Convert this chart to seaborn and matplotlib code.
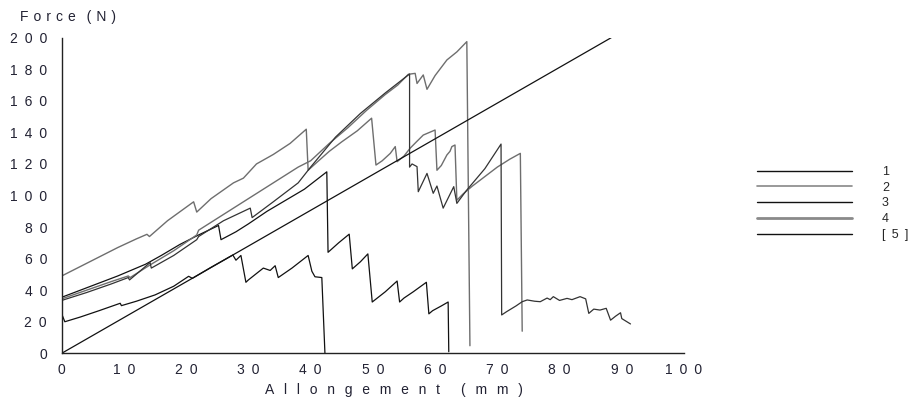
import matplotlib
matplotlib.use("Agg")
import matplotlib.pyplot as plt
import seaborn as sns
import numpy as np

# curve 1 (saw-tooth, fails at ~62 mm)
c1_x = [0, 3, 6, 9, 12, 13.5, 16, 19, 22, 25.2, 25.6, 28, 30, 33, 36, 39, 42.6, 42.8, 44.5, 46.2,
        46.7, 48, 49.2, 49.9, 52, 53.9, 54.3, 55, 56.5, 58.6, 59, 59.6, 61, 62.1, 62.2]
c1_y = [35.5, 40, 44.5, 49, 54, 56.5, 62, 69, 75, 81, 72, 77, 82, 90, 97, 104, 115, 64, 70, 75.5,
        53.5, 58, 63, 32.5, 39, 45.8, 32.5, 35, 39, 45, 25, 27, 30, 32.5, 1]

# curve 2 (starts at 49 N)
c2_x = [0, 3, 6, 9, 12, 13.7, 14.1, 17, 21.2, 21.7, 24, 27.6, 29.2, 31.3, 34, 36.7, 39.3, 39.6, 41,
        43, 45, 47.5, 49.8, 50.5, 51.5, 52.8, 53.6, 53.9, 55, 56, 57, 58.1, 60, 60.3, 61, 61.9, 62.4,
        62.7, 63.2, 63.5, 64.5, 66, 68, 70, 72, 73.7, 74]
c2_y = [49, 55, 61, 67, 72.5, 75.4, 74, 84, 96, 89.5, 98, 108, 111, 120, 126, 133, 142, 116, 121,
        128, 134, 141, 149, 119.3, 122, 126.7, 131, 121.4, 125, 130, 134, 138.3, 141.5, 116, 119, 125.7, 128,
        131, 132, 97, 101, 106, 112, 118, 123, 126.7, 14]

# curve 3 (lowest start)
c3_x = [0, 0.5, 3, 6, 9.4, 9.6, 12, 15, 18, 20.4, 21, 24, 27.5, 28, 28.8, 29.6, 30, 32.4, 33.5,
        34.3, 34.8, 37, 39.6, 40.2, 40.7, 41.8, 42.3]
c3_y = [25, 20, 23, 27, 31.7, 30.2, 33, 37, 42.5, 48.8, 47.5, 54.5, 62.3, 59, 62, 45, 46.5, 54, 52.5,
        55.5, 48, 54, 62, 52, 48.5, 48, 0]

# curve 4 (maximum force ~197 N)
c4_x = [0, 4, 8, 10.7, 11, 14.2, 18, 21.7, 22, 26, 30, 34, 38, 40, 43, 46, 49, 52, 54, 55.7, 56.8,
        57.1, 58.1, 58.7, 60, 61.9, 63.5, 65.1, 65.6]
c4_y = [34.5, 40, 45.5, 49, 48, 56, 65, 75, 78, 88, 98, 108, 118, 122, 133, 143, 154, 164, 170, 176.8, 177.4,
        171, 176.4, 167.3, 176, 185.9, 191, 197.5, 4.8]

# curve 5 (longest, residual tail to ~91 mm)
c5_x = [0, 4, 8, 10.7, 10.9, 14.2, 14.4, 18, 21.7, 22, 26, 30.3, 30.6, 34, 38, 40, 44, 48, 52, 55.9,
        55.9, 56.3, 57.1, 57.3, 58.7, 59.7, 60.3, 61.3, 63, 63.5, 65, 66.5, 68, 69.5, 70.6, 70.7, 71.5,
        73, 74, 74.8, 76, 76.9, 78, 78.5, 79, 80, 81.2, 82, 83.3, 84.2, 84.7, 85.5, 86.5, 87.5, 88.2,
        89, 89.8, 90, 91.4]
c5_y = [33.5, 38.5, 44, 48, 46.5, 57.5, 54, 62, 72, 74, 84, 92, 86, 96, 108, 118, 137, 152, 165, 177,
        118, 120, 118.3, 102.4, 114, 101.4, 106, 92, 105.6, 95, 103, 110, 117, 126, 132.6, 24.3, 26.4,
        30, 32.7, 33.8, 33, 32.7, 35, 34, 35.9, 33.5, 34.8, 34, 35.9, 34.5, 25.3, 28, 27.4, 28.5, 21,
        23.5, 25.7, 22, 18.6]

# reference straight line
ref_x = [0, 88.3]
ref_y = [0, 200]

legend_labels = ["1", "2", "3", "4", "[\u2002" + "5" + "\u2002]"]
x_ticks = list(range(0, 101, 10))
y_ticks = list(range(0, 201, 20))

EN = "\u2002"
NARROW = " \u200a"


def spaced(s, sep=EN):
    return sep.join(str(s))


sns.set_style("white")
plt.rcParams['font.family'] = ['Liberation Sans', 'DejaVu Sans']

fig = plt.figure(figsize=(9.13, 3.99), dpi=100)
ax = fig.add_axes([61.7 / 913, 45.7 / 399, 622.3 / 913, 315.6 / 399])

dark = "#111111"
grey = "#6e6e6e"
series = [
    (c1_x, c1_y, dark, 0.9),
    (c2_x, c2_y, grey, 1.0),
    (c3_x, c3_y, dark, 0.9),
    (c4_x, c4_y, grey, 1.0),
    (c5_x, c5_y, "#333333", 0.9),
]
for xs, ys, col, lw in series:
    sns.lineplot(x=xs, y=ys, sort=False, estimator=None, color=col, lw=lw, ax=ax)
sns.lineplot(x=ref_x, y=ref_y, sort=False, estimator=None, color=dark, lw=0.9, ax=ax)

ax.set_xlim(0, 100)
ax.set_ylim(0, 200)
sns.despine(ax=ax)
for sp in ("left", "bottom"):
    ax.spines[sp].set_color("#222222")
    ax.spines[sp].set_linewidth(1.0)

ax.set_xticks(x_ticks, labels=[spaced(v) for v in x_ticks])
ax.set_yticks(y_ticks, labels=[spaced(v) for v in y_ticks])
ax.set_xticks(np.arange(5, 100, 10), minor=True)
ax.set_yticks(np.arange(10, 200, 20), minor=True)
ax.tick_params(axis="x", which="both", direction="in", length=4, width=1, color="#222222",
               labelsize=10, labelcolor="#222233", pad=7)
ax.tick_params(axis="y", which="both", direction="inout", length=7, width=1, color="#222222",
               labelsize=10, labelcolor="#222233", pad=7)
ax.set_xlabel("")
ax.set_ylabel("")

ylab = NARROW.join("Force") + EN + " " + NARROW.join("(N)")
xlab = (EN + "\u2009").join("Allongement") + EN * 3 + (EN + "\u2009").join("(mm)")
fig.text(20 / 913, 1 - 17 / 399, ylab, fontsize=10, color="#222233", ha="left", va="center")
fig.text(394 / 913, 1 - 390 / 399, xlab, fontsize=10, color="#222233", ha="center", va="center")

handles = [
    plt.Line2D([], [], color=dark, lw=1.0),
    plt.Line2D([], [], color="#888888", lw=1.2),
    plt.Line2D([], [], color=dark, lw=1.0),
    plt.Line2D([], [], color="#8a8a8a", lw=2.0),
    plt.Line2D([], [], color=dark, lw=1.0),
]
fig.legend(handles, legend_labels, loc="upper left", bbox_to_anchor=(757 / 913, 1 - 166 / 399),
           frameon=False, handlelength=7.6, handletextpad=2.4, labelspacing=0.3, fontsize=9,
           borderpad=0, borderaxespad=0)

fig.savefig("out.png", dpi=100)
